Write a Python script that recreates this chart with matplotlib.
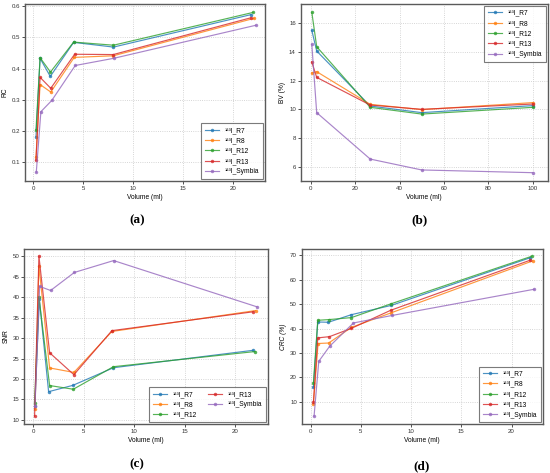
"""Four-panel comparison of 123I reconstructions versus sphere volume."""

import matplotlib
matplotlib.use("Agg")
import matplotlib.pyplot as plt
from matplotlib.ticker import MultipleLocator


SERIES = ["R7", "R8", "R12", "R13", "Symbia"]
COLORS = ["#1f77b4", "#ff7f0e", "#2ca02c", "#d62728", "#9467bd"]

# (a) RC
rc_x = {
    "R7": [0.27, 0.68, 1.70, 4.04, 8.03, 21.8],
    "R8": [0.27, 0.68, 1.75, 4.10, 8.00, 22.1],
    "R12": [0.27, 0.68, 1.72, 4.04, 8.03, 22.0],
    "R13": [0.27, 0.68, 1.75, 4.14, 8.00, 21.8],
    "Symbia": [0.30, 0.76, 1.85, 4.20, 8.05, 22.3],
}
rc_y = {
    "R7": [0.182, 0.433, 0.375, 0.484, 0.469, 0.573],
    "R8": [0.116, 0.349, 0.325, 0.436, 0.441, 0.561],
    "R12": [0.203, 0.435, 0.389, 0.485, 0.475, 0.580],
    "R13": [0.106, 0.372, 0.337, 0.446, 0.445, 0.563],
    "Symbia": [0.068, 0.262, 0.298, 0.410, 0.433, 0.539],
}

# (b) BV (%)
bv_x = [0.5, 2.7, 26.8, 50.0, 100.0]
bv_y = {
    "R7": [15.51, 14.07, 10.23, 9.77, 10.26],
    "R8": [12.53, 12.63, 10.35, 9.98, 10.47],
    "R12": [16.77, 14.37, 10.14, 9.67, 10.14],
    "R13": [13.30, 12.23, 10.30, 10.00, 10.37],
    "Symbia": [14.53, 9.77, 6.53, 5.77, 5.58],
}

# (c) SNR
snr_x = {
    "R7": [0.15, 0.60, 1.52, 3.93, 7.95, 21.8],
    "R8": [0.17, 0.56, 1.62, 4.03, 7.80, 22.05],
    "R12": [0.13, 0.56, 1.62, 3.97, 7.95, 22.0],
    "R13": [0.13, 0.56, 1.62, 4.03, 7.80, 21.8],
    "Symbia": [0.17, 0.63, 1.72, 4.07, 7.97, 22.2],
}
snr_y = {
    "R7": [13.3, 39.5, 16.9, 18.45, 22.75, 27.0],
    "R8": [12.7, 47.6, 22.7, 21.6, 31.6, 36.7],
    "R12": [14.1, 40.0, 18.4, 17.5, 23.0, 26.7],
    "R13": [10.9, 50.0, 26.4, 21.05, 31.8, 36.4],
    "Symbia": [13.4, 42.6, 41.6, 46.0, 48.9, 37.6],
}

# (d) CRC (%)
crc_x = {
    "R7": [0.27, 0.70, 1.76, 4.05, 8.03, 21.86],
    "R8": [0.27, 0.73, 1.79, 4.05, 7.97, 22.1],
    "R12": [0.27, 0.70, 1.86, 4.05, 8.03, 22.0],
    "R13": [0.27, 0.70, 1.86, 4.05, 7.97, 21.86],
    "Symbia": [0.33, 0.80, 1.89, 4.25, 8.13, 22.25],
}
crc_y = {
    "R7": [16.1, 42.7, 42.6, 45.7, 49.5, 69.0],
    "R8": [9.3, 33.9, 34.1, 40.5, 46.4, 67.7],
    "R12": [17.9, 43.4, 43.7, 44.5, 50.2, 69.6],
    "R13": [10.1, 36.2, 36.7, 40.1, 47.5, 68.0],
    "Symbia": [4.1, 26.6, 32.8, 42.3, 45.4, 56.1],
}

TICK_SIZE = 4.4
LABEL_SIZE = 4.8

plt.rcParams["font.family"] = ["Liberation Sans", "DejaVu Sans"]


def _label(name: str) -> str:
    return "\u00b9\u00b2\u00b3I_" + name


def _style_axes(ax) -> None:
    ax.grid(True, linestyle=":", color="#c8c8c8", linewidth=0.6)
    ax.set_axisbelow(True)
    ax.tick_params(labelsize=TICK_SIZE, length=2, width=0.6, colors="#333333", pad=1.5)
    for spine in ax.spines.values():
        spine.set_color("#5a5a5a")
        spine.set_linewidth(1.0)


def _draw(ax, xs, ys) -> None:
    for name, color in zip(SERIES, COLORS):
        x = xs[name] if isinstance(xs, dict) else xs
        ax.plot(
            x,
            ys[name],
            color=color,
            linewidth=0.85,
            alpha=0.8,
            marker="o",
            markersize=2.5,
            markeredgewidth=0,
            label=_label(name),
        )


def _legend(ax, loc, ncol=1) -> None:
    leg = ax.legend(
        loc=loc,
        ncol=ncol,
        fontsize=LABEL_SIZE,
        frameon=True,
        fancybox=False,
        borderpad=0.55,
        labelspacing=0.5,
        handlelength=2.2,
        handletextpad=0.8,
        columnspacing=1.6,
        borderaxespad=0.3,
    )
    leg.get_frame().set_edgecolor("#5a5a5a")
    leg.get_frame().set_linewidth(0.8)


W, H = 550, 473
fig = plt.figure(figsize=(W / 100, H / 100), dpi=100, facecolor="white")


def _add(left, right, top, bottom):
    return fig.add_axes([left / W, 1 - bottom / H, (right - left) / W, (bottom - top) / H])


ax_a = _add(25, 265, 4, 181)
ax_b = _add(300.7, 547.7, 4, 181)
ax_c = _add(24.3, 267.7, 248.7, 424.3)
ax_d = _add(301.7, 542.7, 248.7, 424.3)

# (a)
_draw(ax_a, rc_x, rc_y)
ax_a.set_xlim(-0.83, 23.2)
ax_a.set_ylim(0.04, 0.607)
ax_a.xaxis.set_major_locator(MultipleLocator(5))
ax_a.yaxis.set_major_locator(MultipleLocator(0.1))
ax_a.set_xlabel("Volume (ml)", fontsize=LABEL_SIZE, labelpad=2)
ax_a.set_ylabel("RC", fontsize=LABEL_SIZE, labelpad=2)
_style_axes(ax_a)
_legend(ax_a, "lower right")

# (b)
_draw(ax_b, bv_x, bv_y)
ax_b.set_xlim(-4.5, 106.7)
ax_b.set_ylim(5.0, 17.35)
ax_b.xaxis.set_major_locator(MultipleLocator(20))
ax_b.yaxis.set_major_locator(MultipleLocator(2))
ax_b.set_xlabel("Volume (ml)", fontsize=LABEL_SIZE, labelpad=2)
ax_b.set_ylabel("BV (%)", fontsize=LABEL_SIZE, labelpad=2)
_style_axes(ax_b)
_legend(ax_b, "upper right")

# (c)
_draw(ax_c, snr_x, snr_y)
ax_c.set_xlim(-0.89, 23.25)
ax_c.set_ylim(8.94, 51.8)
ax_c.xaxis.set_major_locator(MultipleLocator(5))
ax_c.yaxis.set_major_locator(MultipleLocator(5))
ax_c.set_xlabel("Volume (ml)", fontsize=LABEL_SIZE, labelpad=2)
ax_c.set_ylabel("SNR", fontsize=LABEL_SIZE, labelpad=2)
_style_axes(ax_c)
_legend(ax_c, "lower right", ncol=2)

# (d)
_draw(ax_d, crc_x, crc_y)
ax_d.set_xlim(-0.9, 23.1)
ax_d.set_ylim(0.83, 72.7)
ax_d.xaxis.set_major_locator(MultipleLocator(5))
ax_d.yaxis.set_major_locator(MultipleLocator(10))
ax_d.set_xlabel("Volume (ml)", fontsize=LABEL_SIZE, labelpad=2)
ax_d.set_ylabel("CRC (%)", fontsize=LABEL_SIZE, labelpad=2, style="italic")
_style_axes(ax_d)
_legend(ax_d, "lower right")

caption = dict(fontsize=9.5, fontweight="bold", family="Liberation Serif", ha="center", va="center")
fig.text(137 / W, 1 - 220 / H, "(a)", **caption)
fig.text(420 / W, 1 - 220 / H, "(b)", **caption)
fig.text(137 / W, 1 - 464 / H, "(c)", **caption)
fig.text(422 / W, 1 - 466 / H, "(d)", **caption)

fig.savefig("out.png", dpi=100)
plt.close(fig)
